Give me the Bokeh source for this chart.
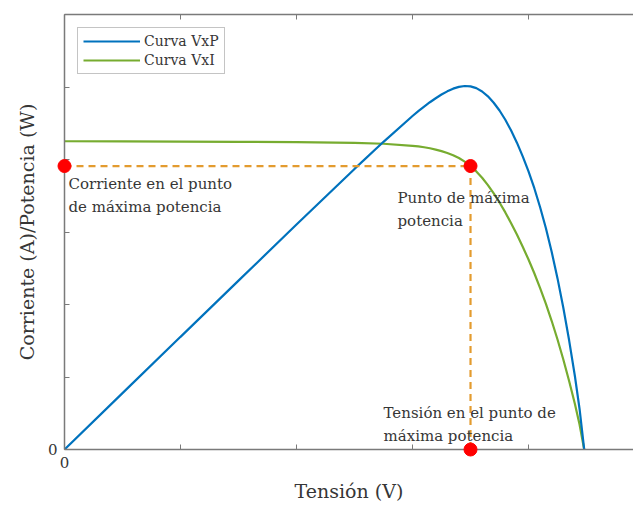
from bokeh.plotting import figure
from bokeh.models import (Range1d, LinearAxis, FixedTicker, Legend, LegendItem,
                          ColumnDataSource)
from bokeh.core.properties import value
from bokeh.embed import file_html
from bokeh.resources import INLINE

# Panel I-V and P-V curves (arbitrary units)
voltage = [0, 0.5, 1.0, 1.5, 2.0, 2.5, 2.75, 3.0, 3.05, 3.1, 3.15, 3.2, 3.25,
           3.3, 3.35, 3.4, 3.45, 3.5, 3.55, 3.6, 3.65, 3.7, 3.75, 3.8, 3.85,
           3.9, 3.95, 4.0, 4.05, 4.1, 4.15, 4.2, 4.25, 4.3, 4.35, 4.4, 4.44, 4.48]
current = [4.252, 4.249, 4.246, 4.243, 4.239, 4.229, 4.217, 4.189, 4.180, 4.169,
           4.155, 4.137, 4.116, 4.090, 4.059, 4.020, 3.971, 3.910, 3.836, 3.748,
           3.646, 3.532, 3.407, 3.270, 3.122, 2.965, 2.797, 2.620, 2.431, 2.227,
           2.009, 1.772, 1.517, 1.242, 0.946, 0.627, 0.344, 0.0]
power = [0.0, 0.778, 1.554, 2.329, 3.103, 3.870, 4.244, 4.600, 4.666, 4.730,
         4.790, 4.845, 4.896, 4.940, 4.977, 5.002, 5.014, 5.009, 4.984, 4.938,
         4.871, 4.783, 4.676, 4.548, 4.399, 4.232, 4.044, 3.836, 3.604, 3.342,
         3.051, 2.724, 2.360, 1.955, 1.506, 1.010, 0.559, 0.0]

# Maximum power point
v_mp = 3.5
i_mp = 3.91

x_ticks = [0, 1, 2, 3, 4]
y_ticks = [0, 1, 2, 3, 4, 5, 6]

SERIF = "DejaVu Serif"
AXIS_GREY = "#7a7a7a"
TEXT = "#363636"
BLUE = "#0072BD"
GREEN = "#77AC30"
ORANGE = "#E39B2F"

p = figure(width=633, height=505, output_backend="svg", toolbar_location=None,
           x_range=Range1d(0, 4.905), y_range=Range1d(0, 6),
           min_border_left=64, min_border_right=0, min_border_top=14,
           min_border_bottom=56)
p.outline_line_color = None
p.grid.visible = False
p.background_fill_color = "white"
p.border_fill_color = "white"

bottom_axis = p.below[0]
left_axis = p.left[0]
bottom_axis.axis_label = "Tensión (V)"
left_axis.axis_label = "Corriente (A)/Potencia (W)"
bottom_axis.ticker = FixedTicker(ticks=x_ticks)
left_axis.ticker = FixedTicker(ticks=y_ticks)
bottom_axis.major_label_overrides = {t: ("0" if t == 0 else "") for t in x_ticks}
left_axis.major_label_overrides = {t: ("0" if t == 0 else "") for t in y_ticks}

top_axis = LinearAxis(ticker=FixedTicker(ticks=x_ticks),
                      major_label_overrides={t: "" for t in x_ticks},
                      major_label_text_font_size="0px", major_label_standoff=0)
p.add_layout(top_axis, "above")

for ax in (bottom_axis, left_axis, top_axis):
    ax.major_tick_in = 5
    ax.major_tick_out = 0
    ax.minor_tick_line_color = None
    ax.axis_line_color = AXIS_GREY
    ax.major_tick_line_color = AXIS_GREY
    ax.axis_line_width = 1.5
for ax in (bottom_axis, left_axis):
    ax.major_label_text_font = SERIF
    ax.major_label_text_font_size = "15px"
    ax.major_label_text_color = TEXT
    ax.major_label_standoff = 7
    ax.axis_label_text_font = SERIF
    ax.axis_label_text_font_size = "19px"
    ax.axis_label_text_font_style = "normal"
    ax.axis_label_text_color = TEXT
bottom_axis.axis_label_standoff = 9
left_axis.axis_label_standoff = 7

curves = ColumnDataSource(dict(v=voltage, i=current, pw=power))
green = p.line("v", "i", source=curves, line_color=GREEN, line_width=2.2)
blue = p.line("v", "pw", source=curves, line_color=BLUE, line_width=2.2)

# Dashed guides from the maximum power point to both axes
p.line([0, v_mp], [i_mp, i_mp], line_color=ORANGE, line_width=2.2, line_dash="7 5")
p.line([v_mp, v_mp], [i_mp, 0], line_color=ORANGE, line_width=2.2, line_dash="7 5")

notes = ColumnDataSource(dict(
    x=[0, v_mp, v_mp],
    y=[i_mp, i_mp, 0],
    text=["Corriente en el punto\nde máxima potencia",
          "Punto de máxima\npotencia",
          "Tensión en el punto de\nmáxima potencia"],
    xo=[4, -73, -87],
    yo=[9, 23, -46],
))
p.text("x", "y", text="text", source=notes, x_offset="xo", y_offset="yo",
       text_font=value(SERIF), text_font_size="15px", text_color=TEXT,
       text_align="left", text_baseline="top", text_line_height=1.3)

p.scatter([0, v_mp, v_mp], [i_mp, i_mp, 0], size=13, color="#FF0000",
          level="overlay")

legend = Legend(items=[LegendItem(label="Curva VxP", renderers=[blue]),
                       LegendItem(label="Curva VxI", renderers=[green])],
                location="top_left", margin=13,
                border_line_color="#8a8a8a", border_line_width=1,
                background_fill_color="white", background_fill_alpha=1,
                label_text_font=SERIF, label_text_font_size="14px",
                label_text_color=TEXT,
                glyph_width=57, glyph_height=16, label_height=16,
                padding=5, spacing=3, label_standoff=4)
p.add_layout(legend)

open("out.html", "w").write(file_html(p, INLINE))
